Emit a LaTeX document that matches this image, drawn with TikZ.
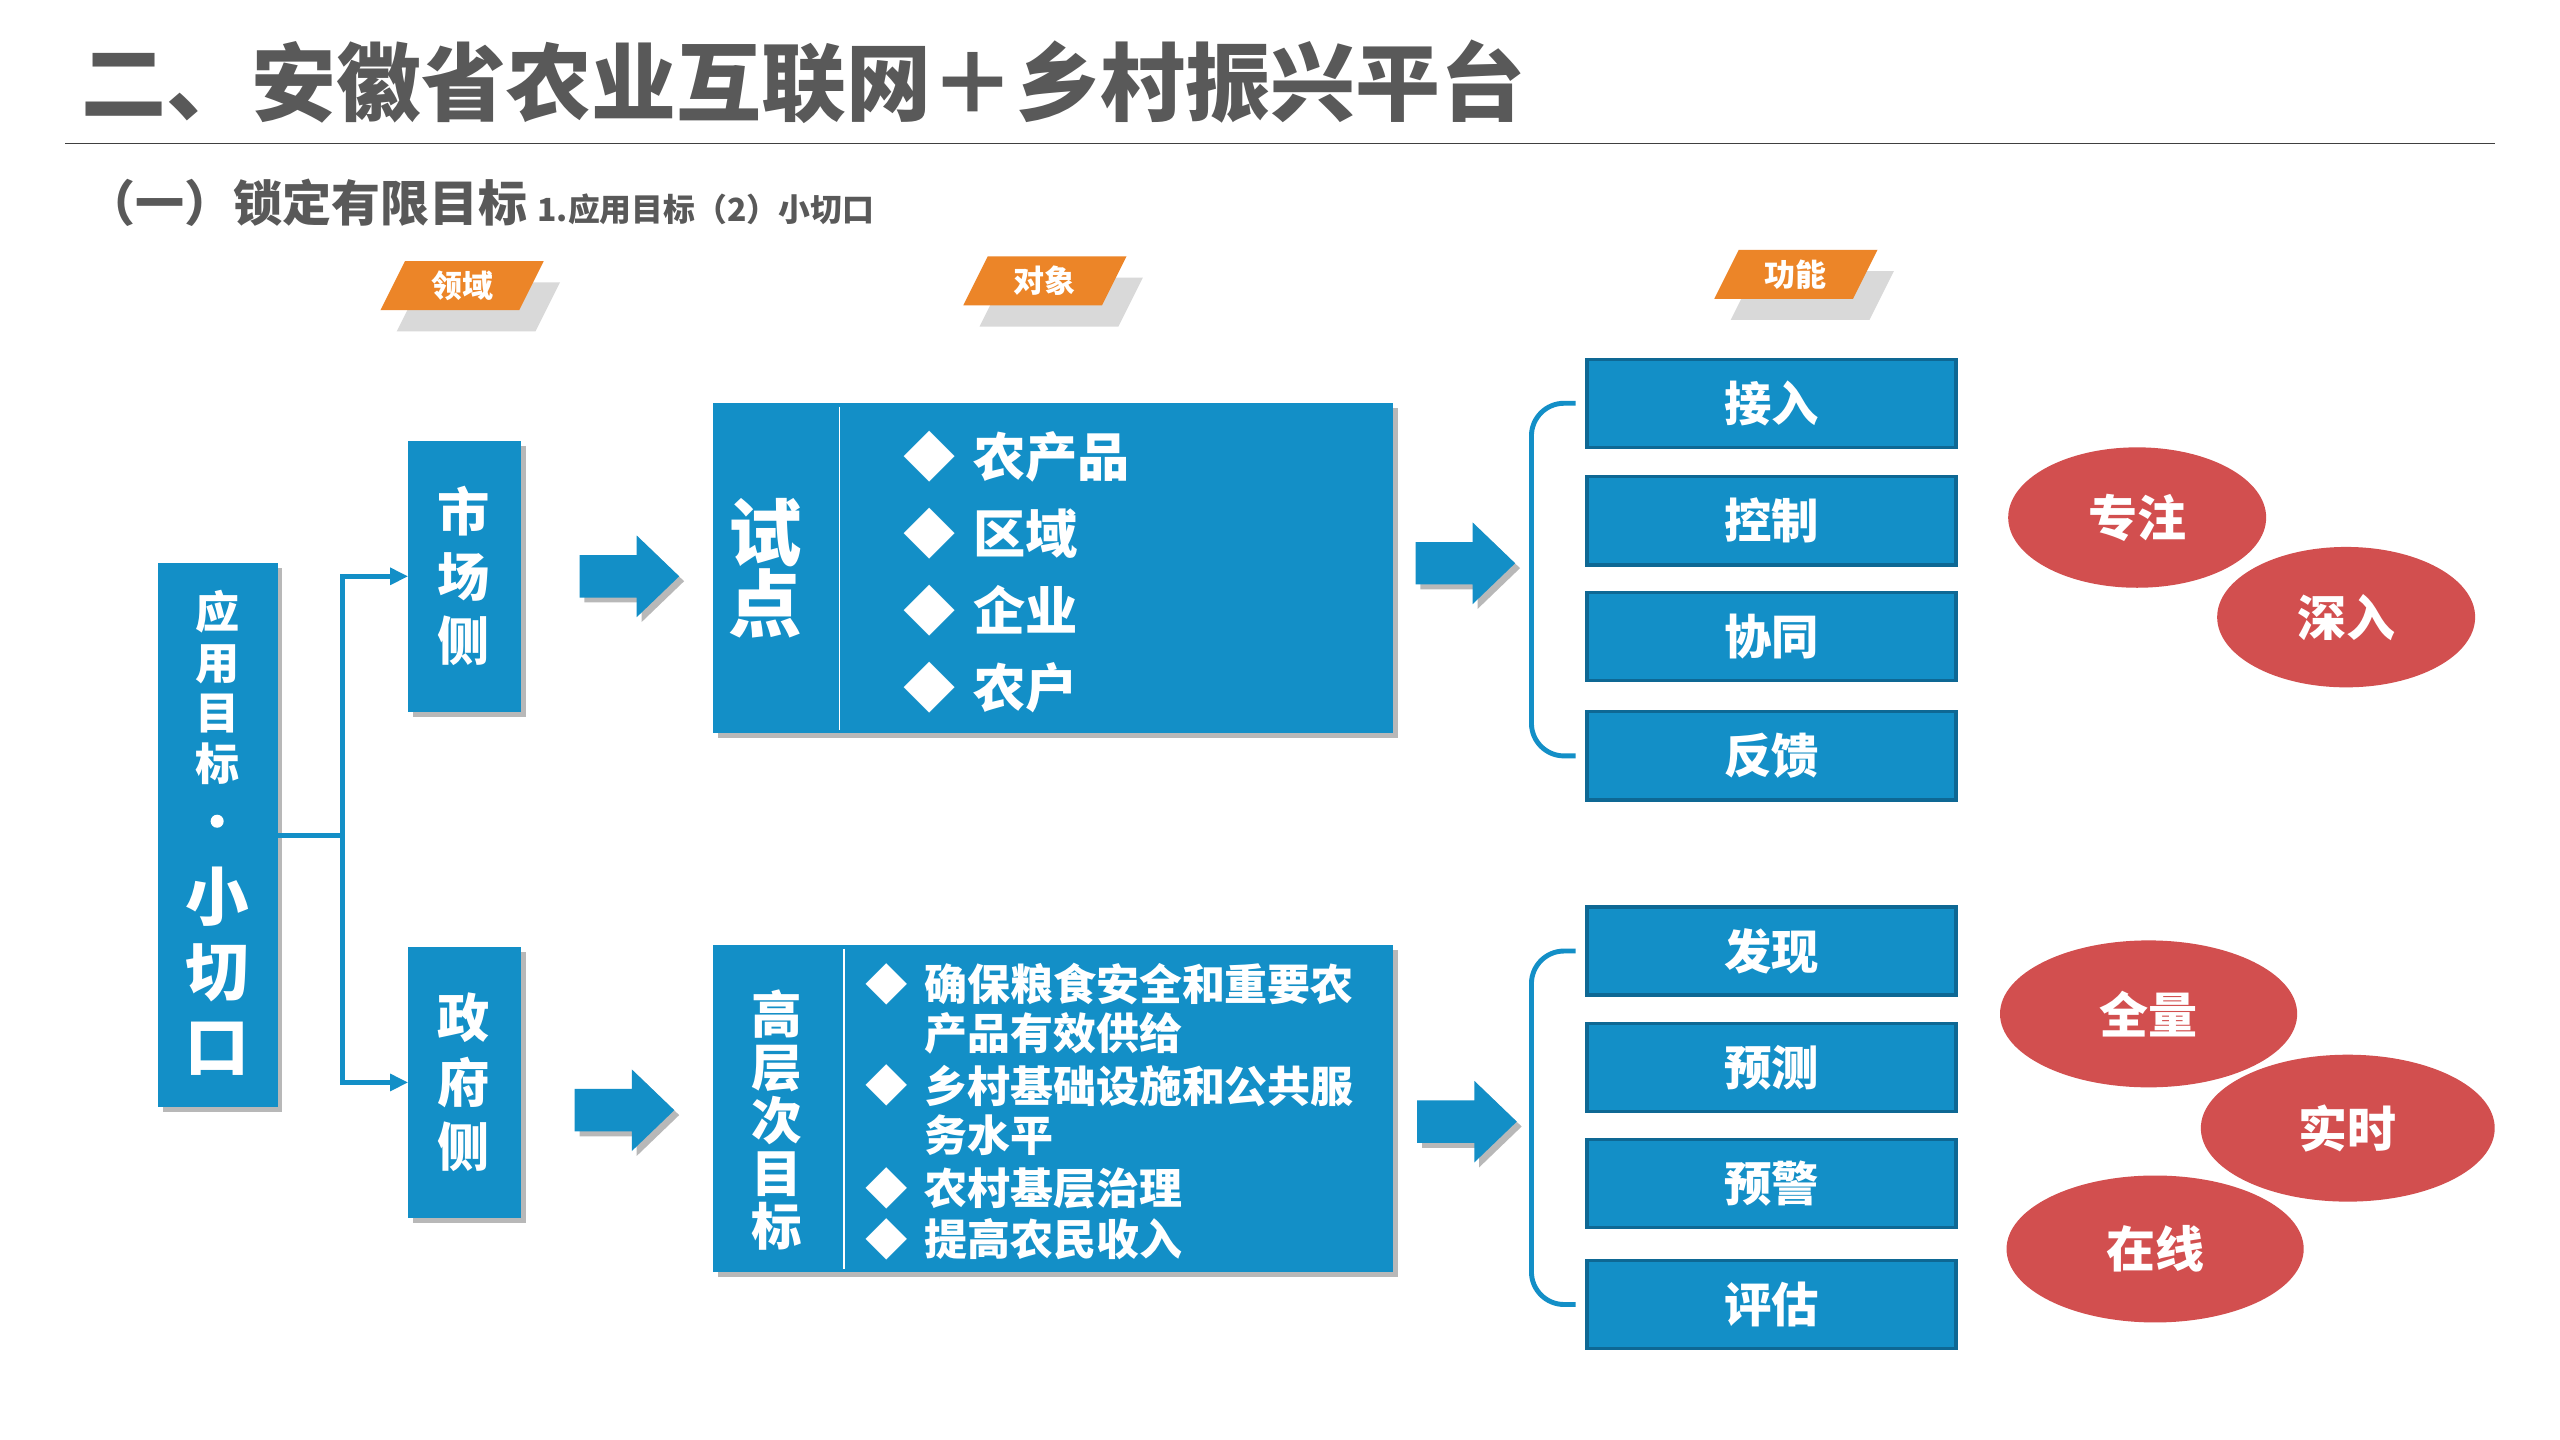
\documentclass[tikz,border=0pt]{standalone}
\usepackage{fontspec}
\setmainfont{Noto Sans CJK SC}
\usetikzlibrary{shapes.geometric,shadows,arrows.meta,calc}
\definecolor{mblue}{RGB}{19,143,199}
\definecolor{mblueb}{RGB}{14,104,148}
\definecolor{morange}{RGB}{236,133,40}
\definecolor{mred}{RGB}{210,79,79}
\definecolor{mgray}{RGB}{89,89,89}
\definecolor{tagshadow}{RGB}{217,217,217}
\definecolor{rulec}{RGB}{64,64,64}
\newcommand\fsz[2]{\bfseries\fontsize{#1}{#2}\selectfont}
\tikzset{
  bluebox/.style={fill=mblue, inner sep=0pt, outer sep=0pt},
  bshadow/.style={drop shadow={shadow xshift=3pt,shadow yshift=-3pt,fill=black,opacity=0.28}},
  wtext/.style={text=white, inner sep=0pt},
  fnbox/.style={fill=mblue, draw=mblueb, line width=2pt, minimum width=226pt, minimum height=54pt, inner sep=0pt, text=white, font=\fsz{29}{32}},
  conn/.style={draw=mblue, line width=3pt},
  brk/.style={draw=mblue, line width=3pt, rounded corners=20pt},
  redell/.style={ellipse, fill=mred, inner sep=0pt, text=white, font=\fsz{30}{32}},
  itemA/.style={wtext, anchor=west, font=\fsz{32}{36}},
  itemB/.style={wtext, anchor=west, font=\fsz{26.3}{30}},
  dia/.style={wtext, font=\fsz{26}{30}},
}
\newcommand\mytag[4]{%
  \fill[tagshadow] (#2-40,#3+28) -- (#2+45,#3+28) -- (#2+60,#3-2) -- (#2-25,#3-2) -- cycle;
  \fill[morange] (#2-50,#3+15) -- (#2+35,#3+15) -- (#2+50,#3-15) -- (#2-35,#3-15) -- cycle;
  \node[wtext, font=\fsz{19}{22}] (#1) at (#2,#3) {#4};}
\newcommand\barrow[2]{%
  \fill[mblue, bshadow] (#1,#2-13) -- ++(35,0) -- ++(0,-12) -- ++(26,25) -- ++(-26,25) -- ++(0,-12) -- ++(-35,0) -- cycle;}
\begin{document}
\begin{tikzpicture}[x=1pt,y=-1pt]
\useasboundingbox (0,0) rectangle (1568,882);
\fill[white] (0,0) rectangle (1568,882);

% title
\node[anchor=west, inner sep=0pt, text=mgray, font=\fsz{52}{56}] (title) at (50,50) {二、安徽省农业互联网＋乡村振兴平台};
\coordinate (r1) at (40,88);
\coordinate (r2) at (1528,88);
\draw[rulec, line width=1pt] (r1) -- (r2);
\node[anchor=west, inner sep=0pt, text=mgray, font=\fsz{30}{32}] (sub) at (53,124) {（一）锁定有限目标\hspace{6pt}{\fsz{19.5}{24}1.应用目标（2）小切口}};

% tags
\mytag{tagA}{283}{175}{领域}
\mytag{tagB}{640}{172}{对象}
\mytag{tagC}{1100}{168}{功能}

% left box
\node[bluebox, bshadow, minimum width=73pt, minimum height=333pt] (app) at (133.5,511.5) {};
\node[wtext, align=center, font=\fsz{27}{31}] (appt) at (133,421) {应\\用\\目\\标};
\node[circle, fill=white, inner sep=0pt, minimum size=8pt] (appdot) at (133,503) {};
\node[wtext, align=center, font=\fsz{39}{46}] (appb) at (133,595) {小\\切\\口};

% side boxes
\node[bluebox, bshadow, minimum width=69pt, minimum height=166pt] (mkt) at (284.5,353) {};
\node[wtext, align=center, font=\fsz{32}{39.5}] (mktt) at (284,353) {市\\场\\侧};
\node[bluebox, bshadow, minimum width=69pt, minimum height=166pt] (gov) at (284.5,663) {};
\node[wtext, align=center, font=\fsz{32}{39.5}] (govt) at (284,663) {政\\府\\侧};

% connectors
\coordinate (jn) at (210,511.5);
\draw[conn] (app.east) -- (jn);
\draw[conn, -{Triangle[length=11pt,width=10pt]}] (jn) |- (mkt.west);
\draw[conn, -{Triangle[length=11pt,width=10pt]}] (jn) |- (gov.west);

% block arrows
\barrow{355}{353}
\barrow{352}{680}
\barrow{867}{345}
\barrow{868}{687}

% pilot box
\node[bluebox, bshadow, minimum width=416pt, minimum height=202pt] (pilot) at (645,348) {};
\coordinate (pd1) at (514,249);
\coordinate (pd2) at (514,447);
\draw[white, line width=0.8pt] (pd1) -- (pd2);
\node[wtext, align=center, font=\fsz{45}{44}] (pilott) at (469,348) {试\\点};
\node[itemA] (p1) at (553,280) {◆\hspace{11pt}农产品};
\node[itemA] (p2) at (553,327) {◆\hspace{11pt}区域};
\node[itemA] (p3) at (553,374) {◆\hspace{11pt}企业};
\node[itemA] (p4) at (553,421) {◆\hspace{11pt}农户};

% goal box
\node[bluebox, bshadow, minimum width=416pt, minimum height=200pt] (goal) at (645,679) {};
\coordinate (gd1) at (517,581);
\coordinate (gd2) at (517,777);
\draw[white, line width=0.8pt] (gd1) -- (gd2);
\node[wtext, align=center, font=\fsz{31}{32.5}] (goalt) at (476,686) {高\\层\\次\\目\\标};
\node[dia] (d1) at (543,603) {◆};
\node[dia] (d2) at (543,665) {◆};
\node[dia] (d3) at (543,728) {◆};
\node[dia] (d4) at (543,759) {◆};
\node[itemB] (q1) at (566,603) {确保粮食安全和重要农};
\node[itemB] (q2) at (566,633) {产品有效供给};
\node[itemB] (q3) at (566,665) {乡村基础设施和公共服};
\node[itemB] (q4) at (566,695) {务水平};
\node[itemB] (q5) at (566,728) {农村基层治理};
\node[itemB] (q6) at (566,759) {提高农民收入};

% function boxes
\node[fnbox] (f1) at (1085,247) {接入};
\node[fnbox] (f2) at (1085,319) {控制};
\node[fnbox] (f3) at (1085,390) {协同};
\node[fnbox] (f4) at (1085,463) {反馈};
\node[fnbox] (g1) at (1085,582.5) {发现};
\node[fnbox] (g2) at (1085,654) {预测};
\node[fnbox] (g3) at (1085,725) {预警};
\node[fnbox] (g4) at (1085,799) {评估};

% brackets
\coordinate (bt) at ($(f1.west)+(-6,0)$);
\coordinate (bb) at ($(f4.west)+(-6,0)$);
\draw[brk] (bt) -- ($(bt)+(-27,0)$) -- ($(bb)+(-27,0)$) -- (bb);
\coordinate (ct) at ($(g1.west)+(-6,0)$);
\coordinate (cb) at ($(g4.west)+(-6,0)$);
\draw[brk] (ct) -- ($(ct)+(-27,0)$) -- ($(cb)+(-27,0)$) -- (cb);

% red ellipses
\node[redell, minimum width=158pt, minimum height=86pt] (e1) at (1309,317) {专注};
\node[redell, minimum width=158pt, minimum height=86pt] (e2) at (1437,378) {深入};
\node[redell, minimum width=182pt, minimum height=90pt] (e3) at (1316,621) {全量};
\node[redell, minimum width=180pt, minimum height=90pt] (e4) at (1438,691) {实时};
\node[redell, minimum width=182pt, minimum height=90pt] (e5) at (1320,765) {在线};
\end{tikzpicture}
\end{document}
